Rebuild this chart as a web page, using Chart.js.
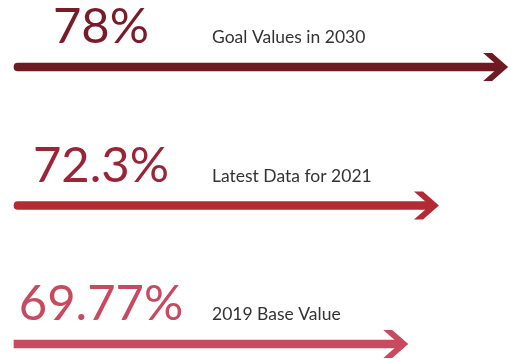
<!DOCTYPE html>
<html>
<head>
<meta charset="utf-8">
<script src="https://cdn.jsdelivr.net/npm/chart.js@4"></script>
<style>
  html, body { margin: 0; padding: 0; background: #fff; }
  #wrap { width: 511px; height: 359px; position: relative; }
</style>
</head>
<body>
<div id="wrap"><canvas id="chart"></canvas></div>
<script>
// rows, top to bottom
const categories = ['Goal Values in 2030', 'Latest Data for 2021', '2019 Base Value'];
const values = [78, 72.3, 69.77];
const valueLabels = ['78%', '72.3%', '69.77%'];

const axisMin = 37.7;
const axisMax = 78.4;

const arrowColors = ['#6e1a22', '#b22a33', '#c84a5f'];
const numberColors = ['#7a1b28', '#9c2437', '#c84a5f'];

// draws the chevron head at the end of each bar plus the two texts above it
const arrowPlugin = {
  id: 'arrowHeads',
  afterDatasetsDraw(chart) {
    const ctx = chart.ctx;
    const left = chart.chartArea.left;
    const meta = chart.getDatasetMeta(0);
    meta.data.forEach((bar, i) => {
      const tx = bar.x + 5, ty = bar.y;
      ctx.save();
      ctx.fillStyle = arrowColors[i];
      ctx.beginPath();
      ctx.moveTo(tx - 25, ty - 14);
      ctx.lineTo(tx - 16, ty - 14);
      ctx.lineTo(tx, ty);
      ctx.lineTo(tx - 16, ty + 14);
      ctx.lineTo(tx - 25, ty + 14);
      ctx.lineTo(tx - 9, ty);
      ctx.closePath();
      ctx.fill();

      ctx.textBaseline = 'alphabetic';
      ctx.font = '49px Lato';
      ctx.textAlign = 'center';
      ctx.fillStyle = numberColors[i];
      ctx.fillText(valueLabels[i], left + 87, ty - 24);

      ctx.font = '17.5px Lato';
      ctx.textAlign = 'left';
      ctx.fillStyle = '#333333';
      ctx.fillText(categories[i], left + 198, ty - 24);
      ctx.restore();
    });
  }
};

const config = {
  type: 'bar',
  data: {
    labels: categories,
    datasets: [{
      data: values,
      base: axisMin,
      backgroundColor: arrowColors,
      barThickness: 8,
      borderRadius: c => (c.dataIndex < 2 ? 4 : 0),
      borderSkipped: false,
      clip: false
    }]
  },
  options: {
    indexAxis: 'y',
    responsive: true,
    maintainAspectRatio: false,
    animation: false,
    layout: {
      padding: { left: 14, right: 3, top: 67, bottom: 15 }
    },
    scales: {
      x: { type: 'linear', display: false, min: axisMin, max: axisMax },
      y: { type: 'category', display: false, offset: false }
    },
    plugins: {
      legend: { display: false },
      tooltip: { enabled: false }
    }
  },
  plugins: [arrowPlugin]
};

const myChart = new Chart(document.getElementById('chart'), config);
</script>
</body>
</html>
